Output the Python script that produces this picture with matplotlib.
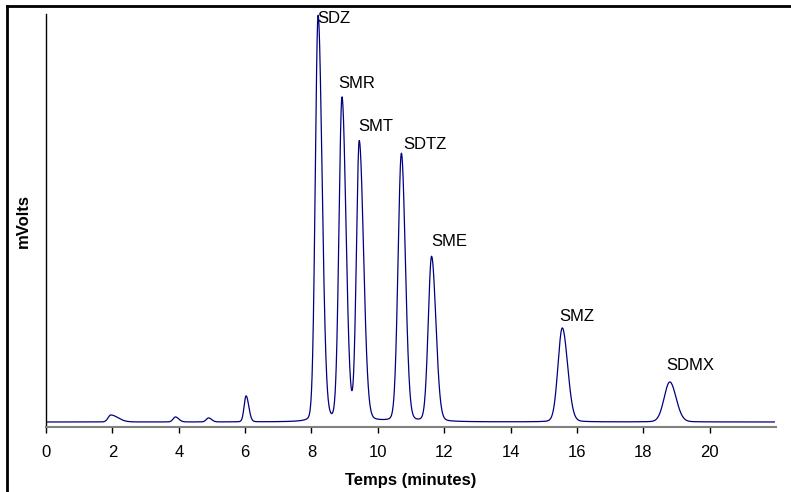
import numpy as np
import matplotlib
matplotlib.use('Agg')
import matplotlib.pyplot as plt
from matplotlib.lines import Line2D

plt.rcParams['font.family'] = ['Liberation Sans', 'DejaVu Sans']

# peak table: retention time (min), height (mV, arbitrary), front/back width (min)
names = ['', '', '', '', 'SDZ', 'SMR', 'SMT', 'SDTZ', 'SME', 'SMZ', 'SDMX']
rt = [1.95, 3.90, 4.90, 6.03, 8.20, 8.92, 9.44, 10.71, 11.62, 15.56, 18.80]
height = [7, 5, 4, 26, 406, 323, 279, 268, 165, 94, 40]
sig_front = [0.08, 0.07, 0.07, 0.06, 0.085, 0.09, 0.085, 0.10, 0.10, 0.13, 0.17]
sig_back = [0.22, 0.10, 0.09, 0.08, 0.12, 0.12, 0.13, 0.12, 0.13, 0.16, 0.19]

# label offsets from each peak top
lab_dx = [0, 0, 0, 0, -0.01, -0.12, -0.02, 0.07, 0.0, -0.10, -0.10]
lab_dy = [0, 0, 0, 0, -7, 11, 12, 5, 11, 7, 12]


def peak(t, t0, h, sf, sb, lor=0.08):
    s = np.where(t < t0, sf, sb)
    g = np.exp(-0.5 * ((t - t0) / s) ** 2)
    l = 1.0 / (1.0 + ((t - t0) / (1.1775 * s)) ** 2)
    return h * ((1 - lor) * g + lor * l)


t = np.linspace(0, 21.95, 5000)
signal = np.zeros_like(t)
for i in range(len(rt)):
    signal += peak(t, rt[i], height[i], sig_front[i], sig_back[i])

fig = plt.figure(figsize=(7.91, 4.92), dpi=100)
ax = fig.add_axes([0.0582, 0.1321, 0.9228, 0.8394])

ax.plot(t, signal, color='#000080', lw=0.9)

for i in range(len(rt)):
    if names[i]:
        ax.text(rt[i] + lab_dx[i], height[i] + lab_dy[i], names[i],
                fontsize=12, ha='left', va='baseline')

ax.set_xlim(0, 22)
ax.set_ylim(-5, 408)
ax.set_xticks(np.arange(0, 21, 2))
ax.set_yticks([])
ax.tick_params(axis='x', direction='out', length=4, width=1, labelsize=12, pad=9)

ax.spines['top'].set_visible(False)
ax.spines['right'].set_visible(False)
ax.spines['left'].set_color('black')
ax.spines['left'].set_linewidth(1.0)
ax.spines['bottom'].set_color('#808080')
ax.spines['bottom'].set_linewidth(1.5)

ax.set_xlabel('Temps (minutes)', fontsize=12, fontweight='bold', labelpad=9)
ax.set_ylabel('mVolts', fontsize=12, fontweight='bold', labelpad=11)

# outer frame (top and left edges)
fig.add_artist(Line2D([0.0085, 1.0], [0.9878, 0.9878], color='black', lw=2, transform=fig.transFigure))
fig.add_artist(Line2D([0.0085, 0.0085], [0.0, 0.9878], color='black', lw=2, transform=fig.transFigure))

fig.savefig('out.png', dpi=100)
